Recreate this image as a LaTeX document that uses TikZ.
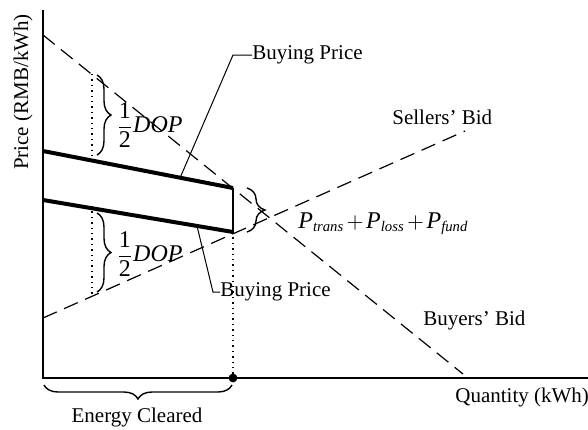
\documentclass[tikz,border=0pt]{standalone}
\usepackage{amsmath}
\usepackage{fontspec}
\setmainfont{Liberation Serif}
\usetikzlibrary{decorations.pathreplacing}

\tikzset{
	bidline/.style={dash pattern=on 7.5pt off 4pt, line width=0.6pt},
	priceline/.style={line width=2pt},
	guideline/.style={dotted, line width=0.7pt},
	bracebox/.style={decorate, decoration={brace, amplitude=#1}, line width=0.7pt},
	lbl/.style={inner sep=0pt, font=\fontsize{10.5}{12.5}\selectfont},
}

\begin{document}
\begin{tikzpicture}[x=0.5pt, y=-0.5pt]
	\useasboundingbox (0,0) rectangle (588,429);
	% Axes:
	\coordinate (O) at (43,378);
	\coordinate (ytop) at (43,10);
	\coordinate (xend) at (588,378);
	\draw[line width=1.2pt] (ytop) -- (O) -- (xend);
	\node[lbl, rotate=90] (ylab) at (23,92) {Price (RMB/kWh)};
	\node[lbl, anchor=west] (xlab) at (455,397) {Quantity (kWh)};
	% Bids:
	\coordinate (b0) at (43,35);
	\coordinate (b1) at (463,374);
	\coordinate (s0) at (43,318);
	\coordinate (s1) at (465,131);
	\draw[bidline] (b0) -- (b1);
	\draw[bidline] (s0) -- (s1);
	\node[lbl, anchor=west] (sbid) at (392,117) {Sellers' Bid};
	\node[lbl, anchor=west] (bbid) at (423,320) {Buyers' Bid};
	% Buying prices:
	\coordinate (u0) at (43,151);
	\coordinate (u1) at (233,188);
	\coordinate (l0) at (43,200);
	\coordinate (l1) at (233,232);
	\coordinate (Q) at (233,378);
	\draw[priceline] (u0) -- (u1);
	\draw[priceline] (l0) -- (l1);
	\draw[line width=0.6pt] (u1) -- (l1);
	\draw[guideline] (l1) -- (Q);
	\fill (Q) circle (2.2pt);
	% Leaders:
	\node[lbl, anchor=west] (bpa) at (252,55) {Buying Price};
	\coordinate (ua) at (180,178);
	\coordinate (kA) at (233,55);
	\draw[line width=0.5pt] (ua) -- (kA) -- (bpa.west);
	\node[lbl, anchor=west] (bpb) at (220,292) {Buying Price};
	\coordinate (la) at (197,226);
	\coordinate (kB) at (213,292);
	\draw[line width=0.5pt] (la) -- (kB) -- (bpb.west);
	% DOP braces:
	\coordinate (d0) at (92,74);
	\coordinate (d1) at (92,156);
	\draw[guideline] (d0) -- (d1);
	\draw[bracebox=7pt] (97,75) -- (97,155);
	\node[lbl, anchor=west] (dopa) at (116,125) {$\dfrac{\text{\large 1}}{\text{\large 2}}\textit{\large DOP}$};
	\coordinate (d2) at (92,206);
	\coordinate (d3) at (92,294);
	\draw[guideline] (d2) -- (d3);
	\draw[bracebox=7pt] (97,213) -- (97,292);
	\node[lbl, anchor=west] (dopb) at (116,254) {$\dfrac{\text{\large 1}}{\text{\large 2}}\textit{\large DOP}$};
	% Fees:
	\draw[bracebox=9pt] (247,188) -- (247,232);
	\node[lbl, anchor=west] (fees) at (298,224) {\medmuskip=2mu $\textit{\large P}_{\textit{trans}}+\textit{\large P}_{\textit{loss}}+\textit{\large P}_{\textit{fund}}$};
	% Energy cleared:
	\draw[bracebox=7pt] (232,385) -- (44,385);
	\node[lbl] (ecl) at (137,417) {Energy Cleared};
\end{tikzpicture}
\end{document}
